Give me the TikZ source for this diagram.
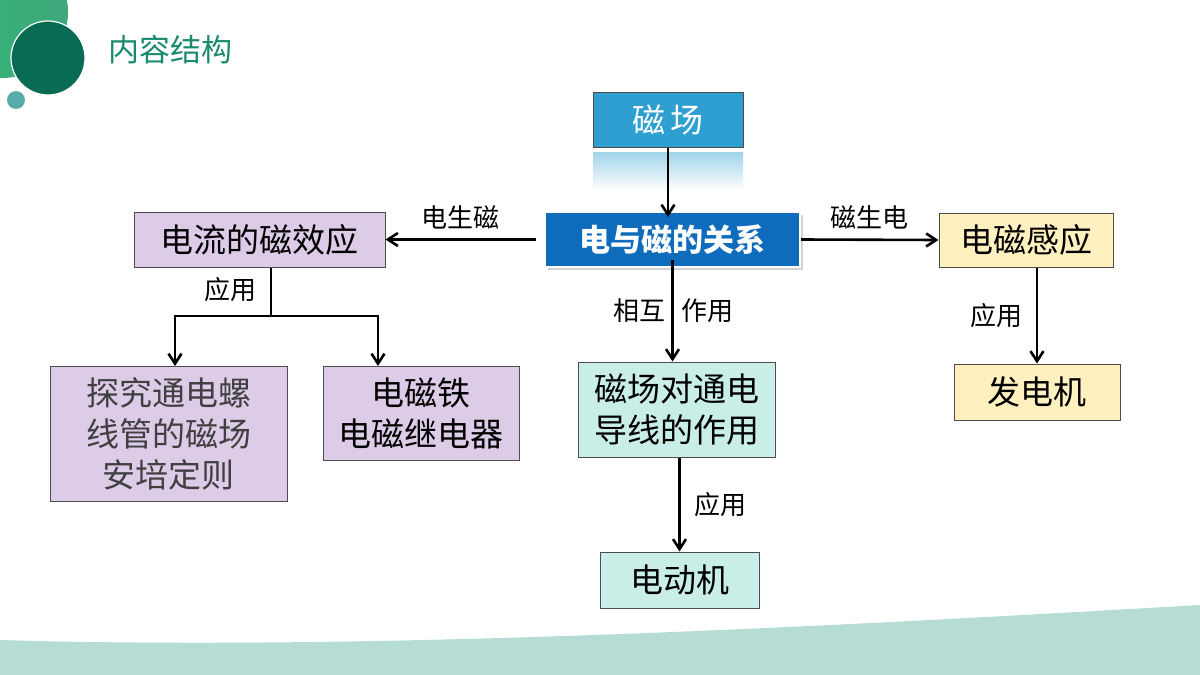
\documentclass[tikz,border=0pt]{standalone}
\usepackage{fontspec}
\setmainfont{Noto Sans CJK SC}
\usetikzlibrary{arrows.meta,positioning,shadows}
\definecolor{topblue}{HTML}{2E9FD0}
\definecolor{coreblue}{HTML}{0F6CBD}
\definecolor{lilac}{HTML}{DDCCE8}
\definecolor{cream}{HTML}{FFF0C0}
\definecolor{mint}{HTML}{C9EEE7}
\definecolor{deepgreen}{HTML}{0A6B55}
\definecolor{titlegreen}{HTML}{1A8A6E}
\definecolor{leafgreen}{HTML}{3FA77A}
\definecolor{wave}{HTML}{B5DDD6}

\begin{document}
\begin{tikzpicture}[x=1pt, y=-1pt,
  box/.style={draw=black!70, line width=1pt, align=center, inner sep=0pt,
    font=\fontsize{33}{40}\selectfont},
  lbl/.style={font=\fontsize{26}{30}\selectfont},
  link/.style={line width=2.6pt},
  >={Straight Barb[length=10pt,width=13pt]}
]
\useasboundingbox (0,0) rectangle (1200,675);

% background decoration
\fill[wave] (0,640) .. controls (400,652) and (900,622) .. (1200,605) -- (1200,675) -- (0,675) -- cycle;
\shade[left color=teal!70!green!80, right color=leafgreen] (2,12) circle (66);
\fill[deepgreen] (48,58) circle (37);
\draw[white, line width=1.2pt] (48,58) circle (37);
\fill[teal!65] (16,100) circle (9);
\node[text=titlegreen, font=\fontsize{31}{34}\selectfont] (title) at (170,50) {内容结构};

% Nodes
\node[box, fill=topblue, text=white, minimum width=150pt, minimum height=55pt] (field) at (668,119.5) {磁\,场};
\shade[top color=topblue!45, bottom color=white] (593,152) rectangle (743,190);
\node[box, draw=white, line width=2pt, fill=coreblue, text=white, minimum width=255pt, minimum height=55pt,
  font=\fontsize{31}{36}\selectfont\bfseries, drop shadow={opacity=0.35}] (core) at (672.5,239.5) {电与磁的关系};
\node[box, fill=lilac, minimum width=251pt, minimum height=55pt] (effect) at (259.5,239.5) {电流的磁效应};
\node[box, fill=cream, minimum width=174pt, minimum height=54pt] (induct) at (1026,240) {电磁感应};
\node[box, fill=lilac, minimum width=237pt, minimum height=135pt, text=black!75, font=\fontsize{33}{41}\selectfont] (explore) at (168.5,433.5) {探究通电螺\\线管的磁场\\安培定则};
\node[box, fill=lilac, minimum width=196pt, minimum height=94pt, font=\fontsize{33}{41}\selectfont] (magnet) at (421,413) {电磁铁\\电磁继电器};
\node[box, fill=mint, minimum width=197pt, minimum height=95pt, font=\fontsize{33}{41}\selectfont] (force) at (676.5,409.5) {磁场对通电\\导线的作用};
\node[box, fill=mint, minimum width=159pt, minimum height=56pt] (motor) at (679.5,580) {电动机};
\node[box, fill=cream, minimum width=166pt, minimum height=56pt] (dynamo) at (1037,392) {发电机};
\coordinate (split) at (271,316);
\coordinate (exploretop) at (175,366);
\coordinate (magnettop) at (378,366);

% Arrows
\draw[->, link] (field.south) -- ([yshift=-6pt]field.south |- core.north);
\draw[->, link] ([xshift=-8pt]core.west) -- (effect.east) node[midway, above=6pt, lbl] {电生磁};
\draw[->, link] (core.east) -- (induct.west) node[midway, above=6pt, lbl] {磁生电};
\draw[->, link] ([yshift=8pt]core.south) -- (force.north -| core.south) node[midway, lbl, left=2pt] {相互} node[midway, lbl, right=4pt] {作用};
\draw[link] (effect.south -| split) -- (split) node[pos=0.45, left=10pt, lbl] {应用};
\draw[->, link] (split) -| (exploretop);
\draw[->, link] (split) -| (magnettop);
\draw[->, link] (induct.south -| dynamo.north) -- (dynamo.north) node[midway, left=10pt, lbl] {应用};
\draw[->, link] (force.south -| motor.north) -- (motor.north) node[midway, right=10pt, lbl] {应用};

\end{tikzpicture}
\end{document}
